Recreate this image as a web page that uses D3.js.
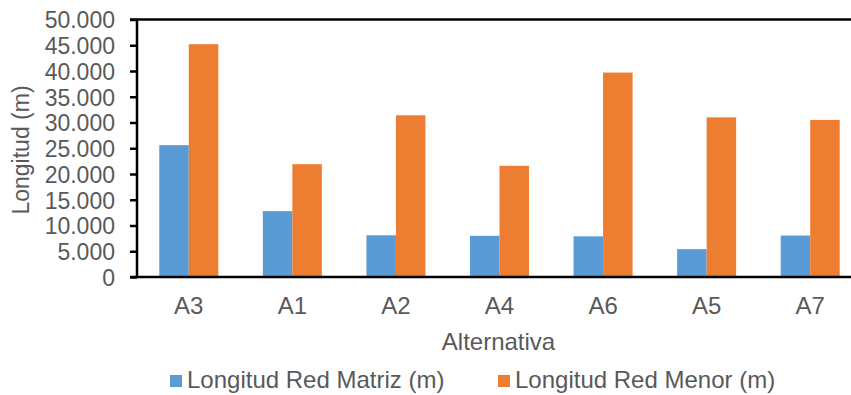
<!DOCTYPE html>
<html>
<head>
<meta charset="utf-8">
<script src="https://cdn.jsdelivr.net/npm/d3@7"></script>
<style>
  body { margin: 0; background: #fff; }
  svg text { font-family: "Liberation Sans", Arial, sans-serif; fill: #595959; }
</style>
</head>
<body>
<svg width="851" height="395"></svg>
<script>
var categories = ["A3", "A1", "A2", "A4", "A6", "A5", "A7"];
var seriesNames = ["Longitud Red Matriz (m)", "Longitud Red Menor (m)"];
var redMatriz = [25600, 12800, 8100, 8000, 7900, 5400, 8050];
var redMenor = [45200, 21900, 31400, 21600, 39700, 31000, 30500];
var yTicks = [0, 5000, 10000, 15000, 20000, 25000, 30000, 35000, 40000, 45000, 50000];
var colors = ["#5b9bd5", "#ed7d31"];

var svg = d3.select("svg"),
  plotLeft = 137,
  plotRight = 862,
  plotTop = 19.5,
  plotBottom = 277;

var rows = categories.map(function (c, i) {
  return { cat: c, values: [redMatriz[i], redMenor[i]] };
});

var x0 = d3.scaleBand().domain(categories).range([plotLeft, plotRight]);
var x1 = d3.scaleBand().domain([0, 1]).range([0, x0.bandwidth()])
  .paddingInner(0).paddingOuter(0.755);
var y = d3.scaleLinear().domain([0, 50000]).range([plotBottom, plotTop]);

var fmt = d3.formatLocale({ decimal: ",", thousands: ".", grouping: [3], currency: ["", ""] }).format(",d");

// bars
var groups = svg.append("g").selectAll("g")
  .data(rows)
  .enter()
  .append("g")
  .attr("transform", function (d) { return "translate(" + x0(d.cat) + ",0)"; });

groups.selectAll("rect")
  .data(function (d) { return d.values; })
  .enter()
  .append("rect")
  .attr("x", function (d, i) { return x1(i); })
  .attr("y", function (d) { return y(d); })
  .attr("width", x1.bandwidth())
  .attr("height", function (d) { return plotBottom - y(d); })
  .attr("fill", function (d, i) { return colors[i]; });

// top border
svg.append("line")
  .attr("x1", plotLeft - 7).attr("x2", 851)
  .attr("y1", plotTop).attr("y2", plotTop)
  .attr("stroke", "#000").attr("stroke-width", 2.3);

// y axis
var yAxis = svg.append("g")
  .attr("transform", "translate(" + plotLeft + ",0)")
  .call(d3.axisLeft(y).tickValues(yTicks).tickFormat(fmt).tickSize(7).tickPadding(15));
yAxis.select(".domain").attr("stroke", "#000").attr("stroke-width", 2.5)
  .attr("d", "M0," + plotTop + "V" + plotBottom);
yAxis.selectAll(".tick line").attr("stroke", "#000").attr("stroke-width", 2.5);
yAxis.selectAll(".tick text").attr("font-size", "23px").attr("fill", "#595959").attr("dy", "0.36em");

// x axis
var xAxis = svg.append("g")
  .attr("transform", "translate(0," + plotBottom + ")")
  .call(d3.axisBottom(x0).tickSize(0).tickPadding(20));
xAxis.select(".domain").attr("stroke", "#000").attr("stroke-width", 2.5)
  .attr("d", "M" + (plotLeft - 7) + ",0H" + plotRight);
xAxis.selectAll(".tick text").attr("font-size", "24px").attr("fill", "#595959");

// axis titles
svg.append("text")
  .attr("x", (plotLeft + plotRight) / 2 - 1)
  .attr("y", 350)
  .attr("text-anchor", "middle")
  .attr("font-size", "24px")
  .text("Alternativa");

svg.append("text")
  .attr("transform", "translate(29," + 150 + ") rotate(-90)")
  .attr("text-anchor", "middle")
  .attr("font-size", "23px")
  .text("Longitud (m)");

// legend
var legendX = [170, 498];
var legend = svg.append("g").selectAll("g")
  .data(seriesNames)
  .enter()
  .append("g")
  .attr("transform", function (d, i) { return "translate(" + legendX[i] + ",375)"; });

legend.append("rect")
  .attr("width", 12).attr("height", 12)
  .attr("fill", function (d, i) { return colors[i]; });

legend.append("text")
  .attr("x", 17)
  .attr("y", 12.5)
  .attr("font-size", "24px")
  .text(function (d) { return d; });
</script>
</body>
</html>
